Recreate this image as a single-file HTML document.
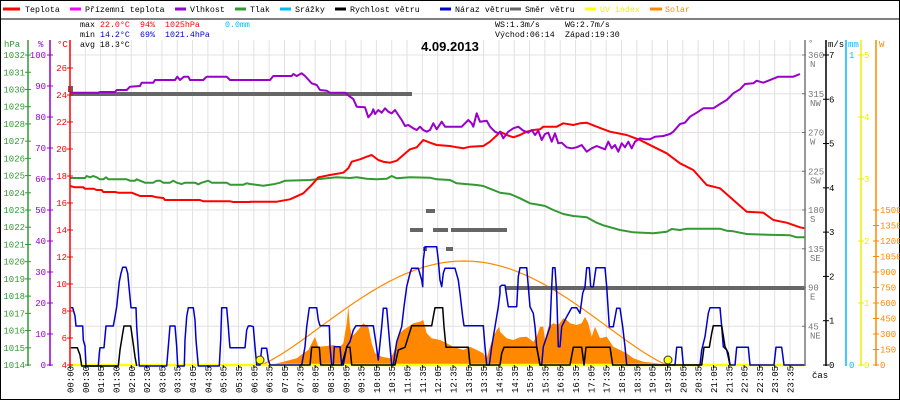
<!DOCTYPE html>
<html><head><meta charset="utf-8"><style>
html,body{margin:0;padding:0;background:#fff}
svg{display:block}
text{font-family:"Liberation Mono",monospace;font-size:9px}
</style></head><body>
<svg id="s" width="900" height="400" xmlns="http://www.w3.org/2000/svg">
<rect x="0.5" y="0.5" width="899" height="399" fill="#fff" stroke="#000"/>
<g id="grid" stroke="#e4e0e0" stroke-width="1"></g>
<g id="data"></g>
<g id="axes"></g>
<g>
<line x1="3" y1="9" x2="20" y2="9" stroke="#f00" stroke-width="3"/><text x="25" y="12" style="font-size:8.3px">Teplota</text>
<line x1="70" y1="9" x2="81" y2="9" stroke="#f0f" stroke-width="3"/><text x="85" y="12" style="font-size:8.3px">Přízemní teplota</text>
<line x1="175" y1="9" x2="186" y2="9" stroke="#90c" stroke-width="3"/><text x="190" y="12" style="font-size:8.3px">Vlhkost</text>
<line x1="235" y1="9" x2="246" y2="9" stroke="#393" stroke-width="3"/><text x="250" y="12" style="font-size:8.3px">Tlak</text>
<line x1="280" y1="9" x2="291" y2="9" stroke="#0bf" stroke-width="3"/><text x="295" y="12" style="font-size:8.3px">Srážky</text>
<line x1="335" y1="9" x2="346" y2="9" stroke="#000" stroke-width="3"/><text x="350" y="12" style="font-size:8.3px">Rychlost větru</text>
<line x1="440" y1="9" x2="451" y2="9" stroke="#00c" stroke-width="3"/><text x="455" y="12" style="font-size:8.3px">Náraz větru</text>
<line x1="510" y1="9" x2="521" y2="9" stroke="#666" stroke-width="3"/><text x="525" y="12" style="font-size:8.3px">Směr větru</text>
<line x1="585" y1="9" x2="596" y2="9" stroke="#ff0" stroke-width="3"/><text x="600" y="12" fill="#ee0" style="font-size:8.3px">UV index</text>
<line x1="650" y1="9" x2="662" y2="9" stroke="#f80" stroke-width="3"/><text x="665" y="12" fill="#f80" style="font-size:8.3px">Solar</text>
<line x1="0" y1="19" x2="900" y2="19" stroke="#000"/>
</g>
<g>
<text x="80" y="27" style="font-size:8.3px">max</text><text x="100" y="27" fill="#f00" style="font-size:8.3px">22.0°C</text><text x="140" y="27" fill="#f00" style="font-size:8.3px">94%</text><text x="165" y="27" fill="#f00" style="font-size:8.3px">1025hPa</text><text x="225" y="27" fill="#0bf" style="font-size:8.3px">0.0mm</text>
<text x="80" y="37" style="font-size:8.3px">min</text><text x="100" y="37" fill="#00c" style="font-size:8.3px">14.2°C</text><text x="140" y="37" fill="#00c" style="font-size:8.3px">69%</text><text x="165" y="37" fill="#00c" style="font-size:8.3px">1021.4hPa</text>
<text x="80" y="47" style="font-size:8.3px">avg 18.3°C</text>
<text x="495" y="27" style="font-size:8.3px">WS:1.3m/s</text><text x="565" y="27" style="font-size:8.3px">WG:2.7m/s</text>
<text x="495" y="37" style="font-size:8.3px">Východ:06:14</text><text x="565" y="37" style="font-size:8.3px">Západ:19:30</text>
<text x="450" y="51" text-anchor="middle" style="font-family:'Liberation Sans',sans-serif;font-size:13px;font-weight:bold">4.09.2013</text>
</g>
</svg>
<script>
var NS="http://www.w3.org/2000/svg";
function el(p,t,a,txt){var e=document.createElementNS(NS,t);for(var k in a)e.setAttribute(k,a[k]);if(txt!==undefined)e.textContent=txt;document.getElementById(p).appendChild(e);return e;}
function Z(arr,ox,oy,mx){var r=[];for(var i=0;i<arr.length;i+=2){var x=ox+arr[i]/3;if(mx!==undefined&&x>mx+0.01)break;r.push(x.toFixed(1)+","+(oy+arr[i+1]/3).toFixed(1));}return r;}
function line(pts,c,w){el("data","polyline",{points:pts.join(" "),fill:"none",stroke:c,"stroke-width":w,"stroke-linejoin":"round"});}
var labs=["00:00","00:30","01:05","01:30","02:00","02:30","03:05","03:35","04:05","04:35","05:05","05:35","06:05","06:35","07:05","07:35","08:05","08:35","09:05","09:35","10:05","10:35","11:05","11:35","12:05","12:35","13:05","13:35","14:05","14:35","15:05","15:35","16:05","16:35","17:05","17:35","18:05","18:35","19:05","19:35","20:05","20:35","21:05","21:35","22:05","22:35","23:05","23:35"];
for(var i=0;i<labs.length;i++){var x=70+i*15.32;el("grid","line",{x1:x,y1:40,x2:x,y2:365});
 el("axes","line",{x1:x,y1:365,x2:x,y2:368,stroke:"#000"});
 el("axes","text",{x:0,y:0,transform:"translate("+(x+3.5)+",393) rotate(-90)",style:"font-size:9px"},labs[i]);}
for(var k=1;k<=8;k++){var y=365-k*38.75;el("grid","line",{x1:70,y1:y,x2:805,y2:y});}
function vax(x,c){el("axes","line",{x1:x,y1:40,x2:x,y2:366,stroke:c,"stroke-width":1.5});}
vax(28,"#393");vax(50,"#90c");vax(70,"#f00");vax(805,"#777");vax(826,"#000");vax(846,"#0bf");vax(861,"#ee0");vax(876,"#f80");
el("axes","text",{x:4,y:47,fill:"#393"},"hPa");el("axes","text",{x:38,y:47,fill:"#90c"},"%");el("axes","text",{x:57,y:47,fill:"#f00"},"°C");
for(var p=1014;p<=1032;p++){var y=365-(p-1014)*17.22;el("axes","text",{x:25,y:y+3,fill:"#393","text-anchor":"end"},p);el("axes","line",{x1:25,y1:y,x2:31,y2:y,stroke:"#393"});}
for(var h=0;h<=100;h+=10){var y=365-h*3.1;el("axes","text",{x:46,y:y+3,fill:"#90c","text-anchor":"end"},h);el("axes","line",{x1:47,y1:y,x2:53,y2:y,stroke:"#90c"});}
for(var t=4;t<=26;t+=2){var y=365-(t-4)*13.5;el("axes","text",{x:67,y:y+3,fill:"#f00","text-anchor":"end"},t);el("axes","line",{x1:67,y1:y,x2:73,y2:y,stroke:"#f00"});}
el("axes","text",{x:808,y:46,fill:"#777"},"°");
var dl=["","NE","E","SE","S","SW","W","NW","N"];
for(var k=1;k<=8;k++){var y=365-k*38.75;el("axes","text",{x:808,y:y+3,fill:"#777"},k*45);el("axes","text",{x:810,y:y+12,fill:"#777"},dl[k]);el("axes","line",{x1:802,y1:y,x2:806,y2:y,stroke:"#777"});}
el("axes","text",{x:828,y:47},"m/s");
for(var k=0;k<=7;k++){var y=365-k*44.29;el("axes","text",{x:829,y:y+3},k);el("axes","line",{x1:823,y1:y,x2:829,y2:y,stroke:"#000"});}
el("axes","text",{x:848,y:47,fill:"#0bf"},"mm");
el("axes","text",{x:849,y:58,fill:"#0bf"},"1");el("axes","text",{x:849,y:368,fill:"#0bf"},"0");
for(var k=0;k<=5;k++){var y=365-k*62;el("axes","text",{x:864,y:y+3,fill:"#ee0"},k);el("axes","line",{x1:858,y1:y,x2:864,y2:y,stroke:"#ee0"});}
el("axes","text",{x:879,y:47,fill:"#f80"},"W");
for(var k=0;k<=10;k++){var y=365-k*15.5;el("axes","text",{x:880,y:y+3,fill:"#f80"},k*150);el("axes","line",{x1:873,y1:y,x2:879,y2:y,stroke:"#f80"});}
el("axes","text",{x:812,y:378},"čas");
// solar fill
var sf=[].concat(["260,365"],Z([60,915,100,905,140,895,160,880,175,870,195,830,205,860,230,858,250,855,270,860,280,850,290,790,295,740,300,800,305,830,320,815,340,790,355,800,365,850,375,880,395,890,420,895,430,880,440,850,450,820,460,810,475,800,490,790,510,785,520,780,530,820,545,835,570,840,590,850,610,860,640,870,660,860,680,870,700,880,710,895,720,860,730,830,740,810,748,800],250,60,500),Z([0,815,20,835,40,840,60,832,80,830,100,845,110,830,120,800,130,800,135,840,145,800,160,790,175,795,190,775,200,780,210,790,230,795,245,790,255,770,265,790,275,830,285,800,300,835,320,830,340,860,360,870,380,880,400,895,430,905,470,910,500,915],500,60),["667,365"]);
el("data","polygon",{points:sf.join(" "),fill:"#f80"});
var st=[];for(var x=260;x<=668;x+=4){var s=Math.sin(Math.PI*(x-260)/408);st.push(x+","+(365-104*Math.pow(s,1.25)).toFixed(1));}
line(st,"#f80",1.2);
el("data","line",{x1:70,y1:365,x2:805,y2:365,stroke:"#ff0","stroke-width":2.5});
function bar(x1,x2,y){el("data","rect",{x:x1,y:y-2,width:x2-x1,height:4,fill:"#666"});}
el("data","rect",{x:68,y:86,width:5,height:6,fill:"#666"});
bar(70,412,94);bar(410,423,230);bar(426,435,211);bar(433,448,230);bar(451,507,230);bar(423,427,249);bar(446,453,249);bar(505,805,288);
// wind gust
var bl=[].concat(Z([212,203,218,203,225,228,228,258,248,258,250,300,255,318,258,378,295,378,298,340,300,323,312,323,318,258,340,258,345,230,350,200,358,125,363,100,368,82,378,82,383,100,388,150,393,203,408,203,410,260,418,378,500,378,505,320,510,258,525,258,530,320,533,378,553,378,555,300,560,230,565,203,580,203,585,240,588,300,595,378,658,378,662,300,665,203,680,203,685,260,688,300,690,323,735,323,740,270,745,258,750,258],0,240,250),
Z([0,797,10,800,15,860,20,915,30,915,35,865,50,865,55,900,60,915,155,915,165,860,170,800,178,743,200,743,205,780,210,797,238,797,240,860,245,915,250,915,253,860,270,860,275,915,280,915,290,860,300,845,310,810,318,797,370,797,378,850,385,900,395,800,400,745,410,745,415,800,420,860,425,915,430,915,440,845,455,800,462,740,470,680,480,640,485,625,505,625,515,660,518,680,520,600,525,560,560,560,565,600,570,660,575,680,580,640,585,625,615,625,625,660,630,700,638,770,642,797,700,797,705,860,710,915,718,915,725,860,735,800,745,740,750,700],250,60,500),
Z([0,680,5,676,15,676,25,740,50,740,55,650,60,623,80,623,85,680,90,740,100,760,105,800,110,860,120,915,125,915,130,860,140,830,150,800,155,680,158,623,165,623,170,700,175,860,180,860,185,800,200,770,215,743,230,743,240,760,248,700,255,680,260,623,268,623,272,680,280,680,288,623,315,623,320,680,328,800,340,800,350,745,360,745,368,800,375,860,380,915,525,915,530,862,545,862,550,915,600,915,605,870,615,830,625,760,630,743,660,743,665,800,670,860,680,870,690,915,705,915,710,862,745,862,750,915,822,915,828,862,845,862,852,915,915,915],500,60));
line(bl,"#00c",1.5);
// wind speed
line(Z([212,323,232,323,240,345,245,378,355,378,360,330,368,280,372,258,392,258,398,300,405,350,410,378],0,240),"#000",1.5);
var bk=[].concat(Z([150,915,180,915,185,862,208,862,212,915,275,915,290,862,300,862,305,915,435,915,445,870,465,862,475,830,485,797,545,797,550,770,555,743,578,743,582,800,588,862,655,862,660,915,750,915],250,60,500),
Z([5,880,12,862,110,862,120,915,210,915,220,862,245,862,252,915,258,862,330,862,338,915,605,915,612,862,628,862,635,820,640,797,665,797,675,860,685,880,690,915],500,60));
line(bk,"#000",1.5);
// pressure
var gr=[].concat(Z([30,354,75,354,80,348,90,352,100,348,110,352,120,358,130,358,138,352,145,358,200,358,210,362,225,362,230,358,240,362,255,368,280,368,290,362,300,362,310,368,330,368,340,362,350,368,365,372,375,368,405,368,415,373,425,368,445,362,455,368,500,368,510,374,550,374,560,370,570,372],60,60),
Z([40,377,70,373,90,368,105,362,180,360,230,355,260,352,300,354,320,352,350,356,380,358,410,356,425,348,440,355,480,352,540,353,560,358,600,360,620,370,680,375,700,378,720,386,745,396],250,60,500),
Z([0,398,30,402,60,415,90,430,120,435,135,438,160,450,190,462,220,468,260,472,290,488,310,496,360,510,400,517,460,520,500,515,515,507,540,510,560,506,660,506,680,512,700,514,720,518,740,522,800,524,870,526,890,532,915,532],500,60));
line(gr,"#393",2);
// temperature
var rd=[].concat(Z([30,378,45,382,70,382,75,386,100,386,110,390,125,390,130,396,165,396,175,398,215,398,230,404,240,408,275,408,290,412,310,414,315,420,420,420,430,424,510,424,520,426,570,426],60,60),
Z([0,425,80,425,120,418,160,400,185,375,205,352,240,345,280,338,295,325,305,305,330,298,350,290,365,285,385,300,400,305,420,308,440,302,460,285,480,268,500,262,520,240,540,248,560,255,600,258,620,262,640,265,660,260,700,258,720,245,745,222],250,60,500),
Z([0,215,20,225,40,232,60,225,80,215,100,210,120,208,130,200,170,200,190,190,220,195,240,190,260,188,290,200,330,215,380,225,420,240,460,260,500,280,540,310,580,330,620,375,660,385,700,420,740,455,790,458,820,480,860,488,900,502,915,505],500,60));
line(rd,"#f00",2);
// humidity
var pu=[].concat(Z([30,98,115,98,120,96,165,96,170,90,200,90,210,80,240,78,245,68,280,68,285,60,345,60,352,50,360,60,372,50,385,50,390,60,430,60,440,50,500,50,510,60,570,60],60,60),
Z([0,60,60,60,70,48,125,48,130,42,140,48,155,40,165,48,185,70,200,75,210,90,230,92,240,98,285,98,300,110,310,117,320,140,345,142,355,172,365,160,370,148,375,162,385,150,395,158,405,145,415,155,425,160,435,150,445,165,455,180,465,198,475,195,490,205,500,210,510,200,520,210,530,215,540,210,550,190,560,208,575,185,585,200,635,200,655,180,665,190,670,200,680,160,690,185,710,182,720,200,735,215,745,220],250,60,500),
Z([0,215,10,235,25,215,40,205,55,200,70,212,85,218,95,210,105,225,115,212,125,240,135,222,145,218,155,245,165,220,175,250,185,248,200,262,215,265,230,262,245,255,260,275,275,265,290,258,300,262,315,268,325,245,335,265,345,255,355,275,365,250,375,262,385,245,395,265,405,245,420,235,435,238,450,238,465,230,490,228,510,222,520,215,540,192,555,188,570,170,590,158,610,145,640,145,660,132,680,120,700,100,720,88,735,72,760,70,770,62,790,68,835,50,880,50,900,42],500,60));
line(pu,"#90c",2);
el("data","circle",{cx:260,cy:360,r:4,fill:"#ff0",stroke:"#333","stroke-width":1});
el("data","circle",{cx:668,cy:360,r:4,fill:"#ff0",stroke:"#333","stroke-width":1});
</script>
</body></html>
